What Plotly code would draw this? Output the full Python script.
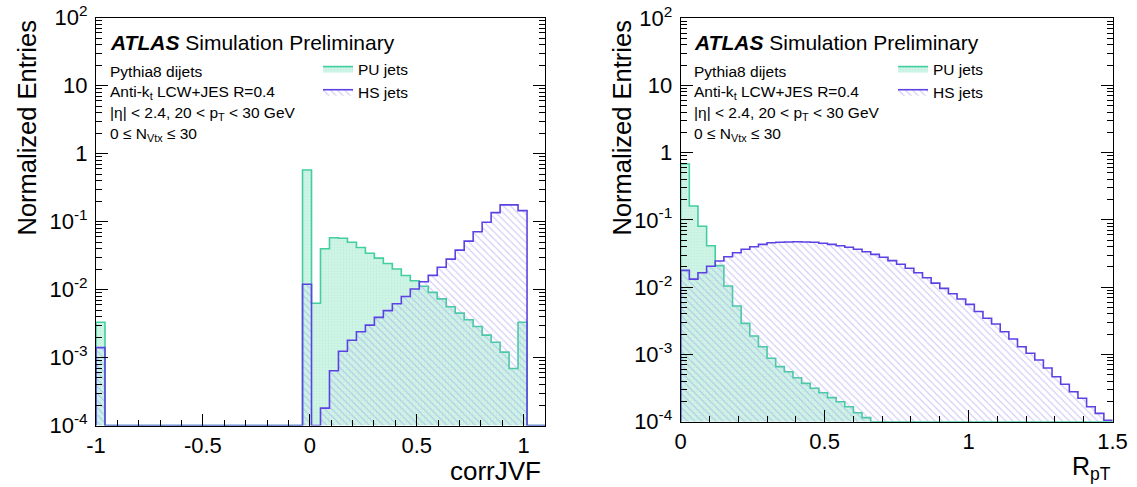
import plotly.graph_objects as go

W, H = 1137, 487

# Histogram binning: 50 equal bins on each axis range
JVF_RANGE = (-1.0, 1.1)
RPT_RANGE = (0.0, 1.5)

# corrJVF, normalized entries per bin
jvf_pu = [0.0033, 0, 0, 0, 0, 0, 0, 0, 0, 0,
          0, 0, 0, 0, 0, 0, 0, 0, 0, 0,
          0, 0, 0, 0.575, 0.0063, 0.0398, 0.058, 0.057, 0.0498, 0.0415,
          0.0343, 0.029, 0.0242, 0.0201, 0.0161, 0.0135, 0.0112, 0.0091, 0.0073, 0.0056,
          0.0045, 0.0036, 0.00286, 0.00214, 0.00168, 0.0012, 0.00069, 0.0033, 0, 0]
jvf_hs = [0.0014, 0, 0, 0, 0, 0, 0, 0, 0, 0,
          0, 0, 0, 0, 0, 0, 0, 0, 0, 0,
          0, 0, 0, 0.012, 0, 0.00018, 0.00064, 0.00124, 0.0018, 0.0024,
          0.003, 0.0039, 0.0049, 0.0062, 0.0079, 0.0102, 0.0130, 0.0162, 0.0213, 0.028,
          0.038, 0.0516, 0.0708, 0.098, 0.1356, 0.176, 0.176, 0.145, 0, 0]

# RpT, normalized entries per bin
rpt_pu = [0.679, 0.161, 0.0805, 0.0414, 0.0209, 0.0104, 0.00525, 0.0029, 0.00188, 0.0013,
          0.000877, 0.000658, 0.000553, 0.000451, 0.000372, 0.000314, 0.00027, 0.000228, 0.000198, 0.000167,
          0.000136, 0.000115, 0, 0, 0, 0, 0, 0, 0, 0,
          0, 0, 0, 0, 0, 0, 0, 0, 0, 0,
          0, 0, 0, 0, 0, 0, 0, 0, 0, 0]
rpt_hs = [0.0178, 0.0132, 0.0164, 0.0205, 0.0245, 0.0284, 0.0326, 0.0366, 0.040, 0.0434,
          0.0459, 0.0467, 0.047, 0.0475, 0.047, 0.0466, 0.045, 0.0434, 0.0414, 0.0392,
          0.0366, 0.0337, 0.0308, 0.0279, 0.0248, 0.0219, 0.0191, 0.0164, 0.0138, 0.0115,
          0.0096, 0.0080, 0.00667, 0.00555, 0.00436, 0.00345, 0.00284, 0.00218, 0.0017, 0.0013,
          0.00104, 0.000828, 0.00063, 0.000467, 0.00036, 0.000279, 0.000223, 0.000167, 0.000133, 0.000105]

# Axis ticks
y_tickvals = [1e-4, 1e-3, 1e-2, 1e-1, 1, 10, 100]
y_ticktext = ["10<sup>-4</sup>", "10<sup>-3</sup>", "10<sup>-2</sup>", "10<sup>-1</sup>",
              "1", "10", "10<sup>2</sup>"]
jvf_tickvals = [-1, -0.5, 0, 0.5, 1]
jvf_ticktext = ["-1", "-0.5", "0", "0.5", "1"]
rpt_tickvals = [0, 0.5, 1, 1.5]
rpt_ticktext = ["0", "0.5", "1", "1.5"]

Y_MIN, Y_MAX = 1e-4, 1e2

FONT = "Liberation Sans, Arial, Helvetica, sans-serif"
PU_LINE = "rgb(66,206,160)"
PU_BG = "rgb(210,245,232)"
PU_DOT = "rgb(170,233,210)"
HS_LINE = "rgb(92,66,226)"
HS_HATCH = "rgb(165,152,240)"

# Frame boxes of the two pads, in pixels
LEFT = dict(x0=96, x1=545, top=17.7, bottom=425.5)
RIGHT = dict(x0=680.7, x1=1112.5, top=18.2, bottom=421.7)


def px(x):
    return x / W


def py(y):
    return 1 - y / H


def step_outline(lo, hi, values, floor):
    """Closed ROOT-style histogram outline (for line_shape='hv')."""
    n = len(values)
    w = (hi - lo) / n
    xs, ys = [lo], [floor]
    for i, v in enumerate(values):
        xs.append(lo + i * w)
        ys.append(max(v, floor))
    xs.append(lo + n * w)
    ys.append(floor)
    return xs, ys


fig = go.Figure()


def add_hist(values, rng, xa, ya, name, legend, kind):
    xs, ys = step_outline(rng[0], rng[1], values, Y_MIN)
    if kind == "pu":
        line = dict(color=PU_LINE, width=1.6, shape="hv")
        pattern = dict(shape=".", bgcolor=PU_BG, fgcolor=PU_DOT, size=3, solidity=0.4)
        fillcolor = PU_BG
    else:
        line = dict(color=HS_LINE, width=1.6, shape="hv")
        pattern = dict(shape="\\", bgcolor="rgba(0,0,0,0)", fgcolor=HS_HATCH, size=5, solidity=0.22)
        fillcolor = "rgba(0,0,0,0)"
    fig.add_trace(go.Scatter(
        x=xs, y=ys, mode="lines", line=line, fill="toself", fillcolor=fillcolor,
        fillpattern=pattern, name=name, legend=legend, xaxis=xa, yaxis=ya,
        hoverinfo="skip",
    ))


add_hist(jvf_pu, JVF_RANGE, "x", "y", "PU jets", "legend", "pu")
add_hist(jvf_hs, JVF_RANGE, "x", "y", "HS jets", "legend", "hs")
add_hist(rpt_pu, RPT_RANGE, "x2", "y2", "PU jets", "legend2", "pu")
add_hist(rpt_hs, RPT_RANGE, "x2", "y2", "HS jets", "legend2", "hs")

tickfont = dict(family=FONT, size=22, color="black")


def xaxis_cfg(box, rng, vals, text, anchor):
    return dict(
        domain=[px(box["x0"]), px(box["x1"])], range=list(rng), anchor=anchor,
        tickvals=vals, ticktext=text, ticks="inside", ticklen=12, tickwidth=1,
        tickcolor="black", tickfont=tickfont, showline=True, linecolor="black",
        linewidth=1, mirror=True, showgrid=False, zeroline=False, automargin=False,
        minor=dict(dtick=0.1, tick0=0, ticks="inside", ticklen=6, tickwidth=1,
                   tickcolor="black", showgrid=False),
    )


minor_log = [m * 10.0 ** d for d in range(-4, 2) for m in range(2, 10)]


def yaxis_cfg(box, anchor):
    return dict(
        domain=[py(box["bottom"]), py(box["top"])], type="log",
        range=[-4, 2], anchor=anchor,
        tickvals=y_tickvals, ticktext=y_ticktext, ticks="inside", ticklen=12,
        tickwidth=1, tickcolor="black", tickfont=tickfont, showline=True,
        linecolor="black", linewidth=1, mirror="ticks", showgrid=False,
        zeroline=False, automargin=False, ticklabelstandoff=3,
        minor=dict(tickvals=minor_log, ticks="inside", ticklen=6, tickwidth=1,
                   tickcolor="black", showgrid=False),
    )


legend_common = dict(xanchor="left", yanchor="top", bgcolor="rgba(0,0,0,0)",
                     font=dict(family=FONT, size=15.5), itemwidth=30,
                     tracegroupgap=0, borderwidth=0)

fig.update_layout(
    width=W, height=H,
    margin=dict(l=0, r=0, t=0, b=0, pad=0, autoexpand=False),
    paper_bgcolor="white", plot_bgcolor="white",
    font=dict(family=FONT, color="black"),
    xaxis=xaxis_cfg(LEFT, JVF_RANGE, jvf_tickvals, jvf_ticktext, "y"),
    yaxis=yaxis_cfg(LEFT, "x"),
    xaxis2=xaxis_cfg(RIGHT, RPT_RANGE, rpt_tickvals, rpt_ticktext, "y2"),
    yaxis2=yaxis_cfg(RIGHT, "x2"),
    legend=dict(x=px(318), y=py(52), **legend_common),
    legend2=dict(x=px(893), y=py(52), **legend_common),
    showlegend=True,
)

info_lines = [
    "Pythia8 dijets",
    "Anti-k<sub>t</sub> LCW+JES R=0.4",
    "|η| &lt; 2.4, 20 &lt; p<sub>T</sub> &lt; 30 GeV",
    "0 ≤ N<sub>Vtx</sub> ≤ 30",
]
info_y = [71, 92, 113, 135]

paper = dict(xref="paper", yref="paper", showarrow=False)
annotations = []
for x0 in (108, 692):
    annotations.append(dict(
        text="<b><i>ATLAS</i></b> Simulation Preliminary", x=px(x0), y=py(42),
        xanchor="left", yanchor="middle", font=dict(family=FONT, size=21), **paper))
    for t, yy in zip(info_lines, info_y):
        annotations.append(dict(
            text=t, x=px(x0), y=py(yy), xanchor="left", yanchor="middle",
            font=dict(family=FONT, size=15.5), **paper))

for xc in (26, 621):
    annotations.append(dict(
        text="Normalized Entries", x=px(xc), y=py(19), xanchor="center",
        yanchor="top", textangle=-90, font=dict(family=FONT, size=25.5), **paper))

annotations.append(dict(text="corrJVF", x=px(543), y=py(471), xanchor="right",
                        yanchor="middle", font=dict(family=FONT, size=26), **paper))
annotations.append(dict(text="R<sub>pT</sub>", x=px(1113), y=py(468), xanchor="right",
                        yanchor="middle", font=dict(family=FONT, size=25), **paper))

fig.update_layout(annotations=annotations)

fig.write_html("out.html")
